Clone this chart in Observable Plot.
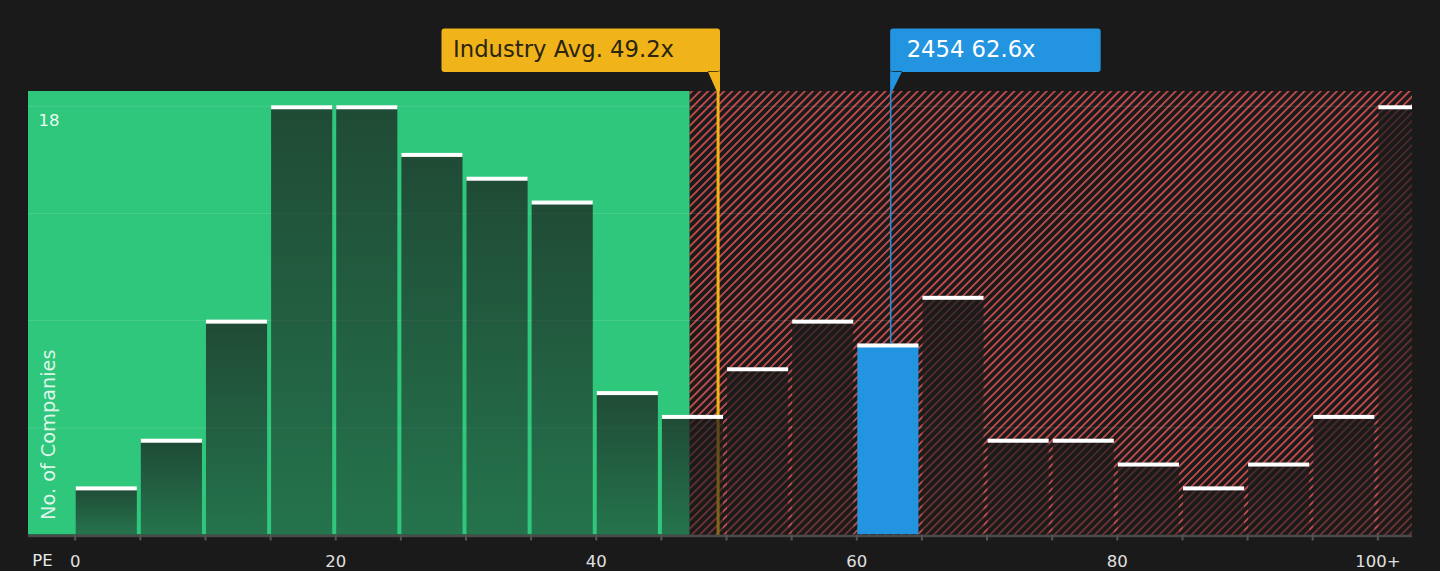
<!DOCTYPE html>
<html>
<head>
<meta charset="utf-8">
<script src="https://cdn.jsdelivr.net/npm/d3@7"></script>
<script src="https://cdn.jsdelivr.net/npm/@observablehq/plot@0.6"></script>
<style>
  html, body { margin: 0; padding: 0; background: #1a1a1a; }
  #chart { width: 1440px; height: 571px; overflow: hidden; }
</style>
</head>
<body>
<div id="chart"></div>
<script>
// ---- data ----
const binStarts = [0, 5, 10, 15, 20, 25, 30, 35, 40, 45, 50, 55, 60, 65, 70, 75, 80, 85, 90, 95, 100];
const binCounts = [2, 4, 9, 18, 18, 16, 15, 14, 6, 5, 7, 9, 8, 10, 4, 4, 3, 2, 3, 5, 18];
const binWidth = 5;
const industryAvg = 49.2;
const companyName = "2454";
const companyPE = 62.6;
const fairThreshold = 47.2;
const xTickMarks = [0, 5, 10, 15, 20, 25, 30, 35, 40, 45, 50, 55, 60, 65, 70, 75, 80, 85, 90, 95, 100];
const xTickValues = [0, 20, 40, 60, 80, 100];
const xTickLabels = ["0", "20", "40", "60", "80", "100+"];
const yGridValues = [4.5, 9, 13.5, 18];
const yTickLabelValues = [18];

// ---- scales extents ----
const xDomain = [-3.585, 102.66];
const yDomain = [0, 18.62];

const bins = binStarts.map((x, i) => ({ x1: x, x2: x + binWidth, count: binCounts[i] }));
const isCompanyBin = d => companyPE >= d.x1 && companyPE < d.x2;
const normalBins = bins.filter(d => !isCompanyBin(d));
const companyBins = bins.filter(isCompanyBin);
const companyCount = companyBins.length ? companyBins[0].count : 0;

function roundRect(ctx, x, y, w, h, r) {
  ctx.moveTo(x + r, y);
  ctx.lineTo(x + w - r, y);
  ctx.arcTo(x + w, y, x + w, y + r, r);
  ctx.lineTo(x + w, y + h - r);
  ctx.arcTo(x + w, y + h, x + w - r, y + h, r);
  ctx.lineTo(x + r, y + h);
  ctx.arcTo(x, y + h, x, y + h - r, r);
  ctx.lineTo(x, y + r);
  ctx.arcTo(x, y, x + r, y, r);
  ctx.closePath();
}

// callout shapes drawn relative to the anchor point (value at top of frame)
const industryCallout = {
  draw(ctx) {
    roundRect(ctx, -276.6, -63, 278.5, 43.4, 3);
    ctx.moveTo(-10.3, -20.2);
    ctx.lineTo(-1.5, -0.5);
    ctx.lineTo(1.9, -0.5);
    ctx.lineTo(1.9, -20.2);
    ctx.closePath();
  }
};
const companyCallout = {
  draw(ctx) {
    roundRect(ctx, -0.5, -63, 210.5, 43.4, 3);
    ctx.moveTo(-0.5, -20.2);
    ctx.lineTo(-0.5, 0);
    ctx.lineTo(1.5, 0);
    ctx.lineTo(11.5, -20.2);
    ctx.closePath();
  }
};

const font = "DejaVu Sans";

const chart = Plot.plot({
  width: 1440,
  height: 571,
  marginTop: 91,
  marginBottom: 36.5,
  marginLeft: 28,
  marginRight: 28,
  style: { background: "#1a1a1a", color: "#dddddd", fontFamily: font },
  x: { domain: xDomain },
  y: { domain: yDomain, axis: null },
  marks: [
    // regions
    Plot.rect([{ a: xDomain[0], b: fairThreshold }], { x1: "a", x2: "b", y1: () => yDomain[0], y2: () => yDomain[1], fill: "#2ec77c" }),
    Plot.rect([{ a: fairThreshold, b: xDomain[1] }], { x1: "a", x2: "b", y1: () => yDomain[0], y2: () => yDomain[1], fill: "url(#hatch)" }),
    // grid
    Plot.ruleY(yGridValues, { stroke: "#ffffff", strokeOpacity: 0.12, strokeWidth: 1 }),
    // industry average line (under bars)
    Plot.ruleX([industryAvg], { y1: () => yDomain[0], y2: () => yDomain[1], stroke: "#f0b41a", strokeWidth: 3, dx: 2 }),
    // bars
    Plot.rect(normalBins, { x1: "x1", x2: "x2", y1: () => 0, y2: "count", fill: "url(#barGrad)", insetLeft: 1, insetRight: 3, clip: true }),
    Plot.rect(companyBins, { x1: "x1", x2: "x2", y1: () => 0, y2: "count", fill: "#2394e0", insetLeft: 1, insetRight: 3, clip: true }),
    // caps
    Plot.rect(bins, { x1: "x1", x2: "x2", y1: "count", y2: "count", fill: "#ffffff", insetLeft: 1, insetRight: 3, insetTop: -0.5, insetBottom: -3.5, clip: true }),
    // company line
    Plot.ruleX([companyPE], { y1: () => companyCount, y2: () => yDomain[1], stroke: "#2394e0", strokeWidth: 1.5 }),
    // callouts
    Plot.dot([industryAvg], { x: d => d, frameAnchor: "top", dx: 2, r: 5, fill: "#f0b41a", symbol: industryCallout }),
    Plot.text([`Industry Avg. ${industryAvg}x`], { x: () => industryAvg, frameAnchor: "top", dx: -263, dy: -42, textAnchor: "start", lineAnchor: "middle", fill: "#2a2410", fontSize: 22.7, fontFamily: font }),
    Plot.dot([companyPE], { x: d => d, frameAnchor: "top", r: 5, fill: "#2394e0", symbol: companyCallout }),
    Plot.text([`${companyName} ${companyPE}x`], { x: () => companyPE, frameAnchor: "top", dx: 16, dy: -42, textAnchor: "start", lineAnchor: "middle", fill: "#ffffff", fontSize: 22.7, fontFamily: font }),
    // y labels
    Plot.text(yTickLabelValues, { y: d => d, frameAnchor: "left", dx: 10, dy: 14, textAnchor: "start", lineAnchor: "middle", fill: "#eafaf1", fontSize: 16.5, fontFamily: font }),
    Plot.text(["No. of Companies"], { frameAnchor: "bottom-left", dx: 20, dy: -15, rotate: -90, textAnchor: "start", lineAnchor: "middle", fill: "#ffffff", fillOpacity: 0.85, fontSize: 19.3, fontFamily: font }),
    // x axis
    Plot.ruleY([0], { stroke: "#4a4a4a", strokeWidth: 2.5, dy: 1 }),
    Plot.axisX({ ticks: xTickMarks, tickSize: 6, tickFormat: () => "", stroke: "#555555", strokeWidth: 2, label: null }),
    Plot.axisX({ ticks: xTickValues, tickSize: 0, tickPadding: 20, tickFormat: (d) => xTickLabels[xTickValues.indexOf(d)], fill: "#e0e0e0", fontSize: 16.5, fontFamily: font, label: null }),
    Plot.text(["PE"], { frameAnchor: "bottom-left", dx: 14, dy: 26, textAnchor: "middle", lineAnchor: "middle", fill: "#e8e8e8", fontSize: 16.5, fontFamily: font })
  ]
});

const svg = d3.select(chart);
svg.attr("overflow", "visible");
const defs = svg.insert("defs", ":first-child");
const grad = defs.append("linearGradient").attr("id", "barGrad").attr("x1", 0).attr("y1", 0).attr("x2", 0).attr("y2", 1);
grad.append("stop").attr("offset", 0).attr("stop-color", "#1a1a1a").attr("stop-opacity", 0.72);
grad.append("stop").attr("offset", 1).attr("stop-color", "#1a1a1a").attr("stop-opacity", 0.48);
const pat = defs.append("pattern").attr("id", "hatch").attr("patternUnits", "userSpaceOnUse")
  .attr("width", 5.7).attr("height", 5.7).attr("patternTransform", "rotate(45)");
pat.append("rect").attr("x", 0).attr("y", 0).attr("width", 1.7).attr("height", 5.7).attr("fill", "#cf4f4f");

document.getElementById("chart").appendChild(chart);
</script>
</body>
</html>
